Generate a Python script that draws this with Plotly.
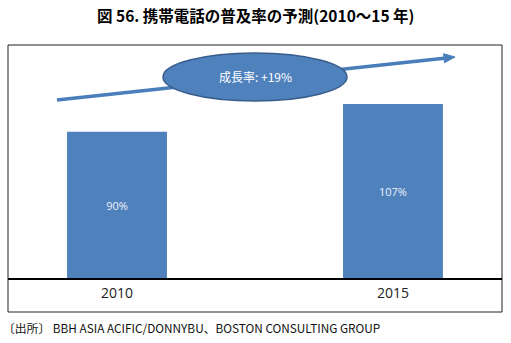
import plotly.graph_objects as go

categories = ["2010", "2015"]
values = [90, 107]
value_labels = ["90%", "107%"]
growth_label = "成長率: +19%"
title_text = "図 56. 携帯電話の普及率の予測(2010～15 年)"
source_text = "〔出所〕 BBH ASIA ACIFIC/DONNYBU、BOSTON CONSULTING GROUP"

W, H = 511, 343
L, R, T, B = 8, 502, 45, 279  # plot area in pixels
PW, PH = R - L, B - T

def px(x):
    return (x - L) / PW

def py(y):
    return (B - y) / PH

BAR = "#4f81bd"
fig = go.Figure()
fig.add_trace(go.Bar(
    x=[0, 1], y=values, width=0.362,
    marker=dict(color=BAR, line=dict(width=0)),
    text=value_labels, textposition="inside", insidetextanchor="middle",
    textfont=dict(color="#eef2f8", size=11, family="Open Sans"),
    hoverinfo="skip",
))

shapes = []
# outer box
shapes.append(dict(type="rect", xref="paper", yref="paper",
                   x0=0, x1=1, y0=py(312), y1=py(45),
                   line=dict(color="#222", width=1), fillcolor="rgba(0,0,0,0)", layer="above"))
# baseline
shapes.append(dict(type="line", xref="paper", yref="paper",
                   x0=0, x1=1, y0=0, y1=0, line=dict(color="#000", width=2), layer="above"))
# arrow
x0a, y0a, x1a, y1a = 57, 100, 455, 57
dx, dy = x1a - x0a, y1a - y0a
ln = (dx * dx + dy * dy) ** 0.5
ux, uy = dx / ln, dy / ln
nx, ny = -uy, ux
hl, hw = 11, 4.5
bx, by = x1a - hl * ux, y1a - hl * uy
shapes.append(dict(type="line", xref="paper", yref="paper",
                   x0=px(x0a), y0=py(y0a), x1=px(bx), y1=py(by),
                   line=dict(color="#4a7ebb", width=3.5), layer="above"))
path = "M {},{} L {},{} L {},{} Z".format(
    px(x1a), py(y1a), px(bx + hw * nx), py(by + hw * ny), px(bx - hw * nx), py(by - hw * ny))
shapes.append(dict(type="path", xref="paper", yref="paper", path=path,
                   fillcolor="#4a7ebb", line=dict(color="#4a7ebb", width=1), layer="above"))
# ellipse
shapes.append(dict(type="circle", xref="paper", yref="paper",
                   x0=px(163), x1=px(347), y0=py(101), y1=py(53),
                   fillcolor="#4f81bd", line=dict(color="#385d8a", width=1.5), layer="above"))

annotations = [
    dict(text=growth_label, xref="paper", yref="paper", x=px(255), y=py(77),
         xanchor="center", yanchor="middle",
         showarrow=False, font=dict(color="white", size=12, family="Noto Sans CJK JP")),
    dict(text="<b>" + title_text + "</b>", xref="paper", yref="paper", x=px(255), y=py(15),
         xanchor="center", yanchor="middle",
         showarrow=False, font=dict(color="#000", size=15.5, family="Noto Sans CJK JP")),
    dict(text=source_text, xref="paper", yref="paper", x=px(1), y=py(327),
         xanchor="left", yanchor="middle",
         showarrow=False, font=dict(color="#111", size=11.8, family="Noto Sans CJK JP")),
]

fig.update_layout(
    width=W, height=H,
    margin=dict(l=L, r=W - R, t=T, b=H - B, pad=0),
    paper_bgcolor="white", plot_bgcolor="white",
    showlegend=False,
    shapes=shapes, annotations=annotations,
    xaxis=dict(range=[-0.395, 1.395], tickvals=[0, 1], ticktext=categories,
               showgrid=False, zeroline=False, showline=False,
               ticks="outside", ticklen=1, tickcolor="rgba(0,0,0,0)",
               tickfont=dict(size=14, color="#222", family="Open Sans"), fixedrange=True),
    yaxis=dict(range=[0, 143.1], visible=False, fixedrange=True),
)

fig.write_html("out.html", config={"displayModeBar": False})
